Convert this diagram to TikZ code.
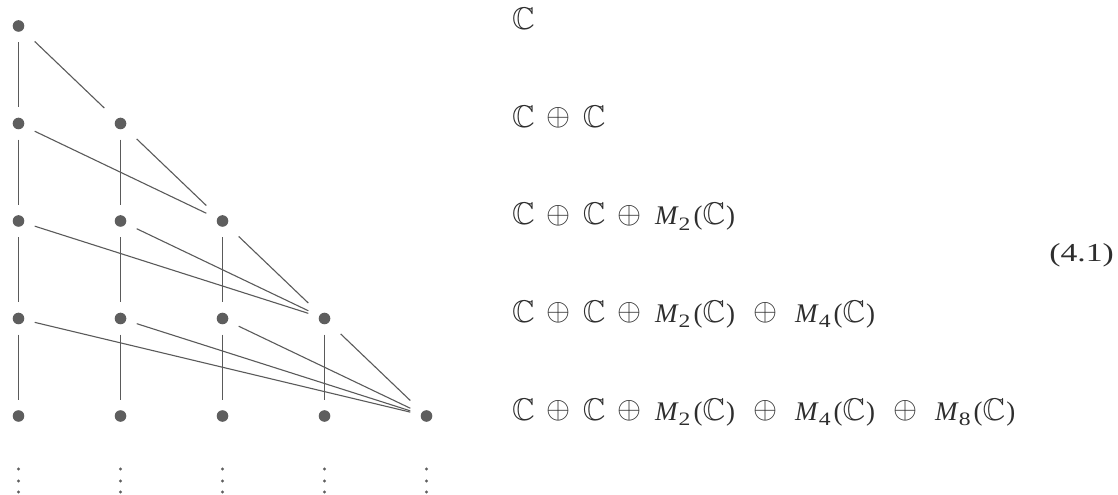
\documentclass[tikz,border=0pt]{standalone}
\usepackage{amssymb}
\usepackage{graphicx}
\usepackage{fontspec}
\setmainfont{Liberation Serif}
\newcommand\CCx{\scalebox{3.15}{\fontsize{10}{12}\selectfont$\mathbb{C}$}}
\newcommand\OPx{\raisebox{1.5bp}{\scalebox{3.1}{\fontsize{10}{12}\selectfont$\oplus$}}}
\newcommand\oplA{\hspace{12bp}\OPx\hspace{12bp}}
\newcommand\oplB{\hspace{12bp}\OPx\hspace{13.5bp}}
\newcommand\oplC{\hspace{18bp}\OPx\hspace{18bp}}
\newcommand\Mat[1]{\textit{M}\raisebox{-0.2em}{\scalebox{1.25}[1]{\fontsize{19}{19}\selectfont #1}}\hspace{3bp}(\CCx\hspace{1bp})}
\definecolor{vxc}{HTML}{5E5E5E}
\definecolor{edc}{HTML}{5A5A5A}
\definecolor{txc}{HTML}{2E2E2E}
\tikzset{
  vx/.style={rectangle, minimum size=32bp, inner sep=0pt,
    path picture={\fill[vxc] (path picture bounding box.center) circle (5.8bp);}},
  edge/.style={draw=edc, line width=1.1bp},
  formula/.style={anchor=base west, inner sep=0pt, text=txc, font=\fontsize{27}{30}\selectfont},
  dotmark/.style={fill=vxc}
}
\begin{document}
\begin{tikzpicture}[x=1bp,y=-1bp]
\useasboundingbox (0,0) rectangle (1118,495);
% vertices
\foreach \r in {0,...,4}{
  \foreach \c in {0,...,\r}{
    \node[vx] (n\r\c) at ({18.5+102*\c},{26+97.5*\r}) {};
  }
}
% edges
\foreach \r in {1,...,4}{
  \pgfmathtruncatemacro\p{\r-1}
  \foreach \c in {0,...,\p}{
    \draw[edge] (n\p\c) -- (n\r\c);
    \draw[edge] (n\p\c) -- (n\r\r);
  }
}
% vertical dots
\foreach \c in {0,...,4}{
  \foreach \y in {469,481,492}{
    \fill[dotmark] ({18.5+102*\c},\y) circle (1.6bp);
  }
}
% formulas
\node[formula] (f0) at (512,30) {\CCx};
\node[formula] (f1) at (512,127.5) {\CCx\oplA\CCx};
\node[formula] (f2) at (512,225) {\CCx\oplA\CCx\oplB\Mat{2}};
\node[formula] (f3) at (512,322.5) {\CCx\oplA\CCx\oplB\Mat{2}\oplC\Mat{4}};
\node[formula] (f4) at (512,420) {\CCx\oplA\CCx\oplB\Mat{2}\oplC\Mat{4}\oplC\Mat{8}};
\node[formula, anchor=base east, font=\fontsize{26}{30}\selectfont] (eq) at (1114,262) {\scalebox{1.3}[1]{(4.1)}};
\end{tikzpicture}
\end{document}
